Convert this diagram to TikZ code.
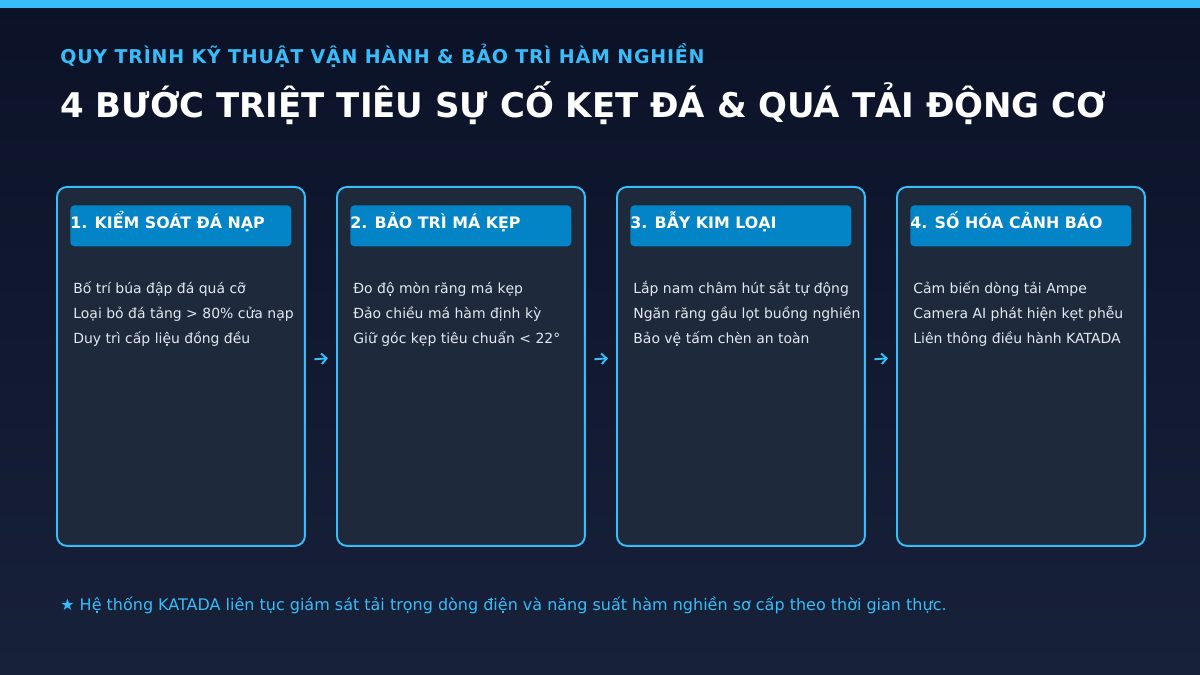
\documentclass[tikz,border=0pt]{standalone}
\usepackage{fontspec}
\setmainfont{DejaVu Sans}
\usetikzlibrary{positioning,arrows.meta}
\definecolor{bgtop}{HTML}{0B1228}
\definecolor{bgbot}{HTML}{172139}
\definecolor{sky}{HTML}{38BDF8}
\definecolor{cardfill}{HTML}{1E293B}
\definecolor{hdrfill}{HTML}{0284C7}
\definecolor{bodytxt}{HTML}{E2E8F0}
\begin{document}
\begin{tikzpicture}
  [x=0.02cm,y=-0.02cm,
   card/.style={draw=sky,line width=1.1pt,fill=cardfill,rounded corners=0.2cm,
     minimum width=4.96cm,minimum height=7.18cm,inner sep=0,anchor=north west},
   hdrbox/.style={fill=hdrfill,rounded corners=0.08cm,minimum width=4.42cm,
     minimum height=0.82cm,inner sep=0,anchor=north west},
   hdrtext/.style={text=white,inner sep=0,anchor=base west,
     font=\fontsize{9}{11}\selectfont\bfseries},
   body/.style={text=bodytxt,inner sep=0,anchor=base west,
     font=\fontsize{7.95}{10}\selectfont},
   link/.style={sky,line width=1.1pt,-{Straight Barb[length=3pt,width=6pt]},
     shorten <=0.17cm,shorten >=0.16cm}]
  % background and top stripe
  \shade[top color=bgtop,bottom color=bgbot] (0,0) rectangle (1200,675);
  \fill[sky] (0,0) rectangle (1200,8);
  \useasboundingbox (0,0) rectangle (1200,675);
  % titles
  \node[anchor=base west,inner sep=0,text=sky,
    font=\fontsize{10.8}{13}\selectfont\bfseries\addfontfeatures{LetterSpace=4.2}]
    (subtitle) at (60,64) {QUY TRÌNH KỸ THUẬT VẬN HÀNH \& BẢO TRÌ HÀM NGHIỀN};
  \node[anchor=base west,inner sep=0,text=white,font=\fontsize{19.35}{24}\selectfont\bfseries]
    (title) at (60,118) {4 BƯỚC TRIỆT TIÊU SỰ CỐ KẸT ĐÁ \& QUÁ TẢI ĐỘNG CƠ};
  % the four steps
  \foreach \i/\x/\head/\la/\lb/\lc in {
    1/56/{1. KIỂM SOÁT ĐÁ NẠP}/{Bố trí búa đập đá quá cỡ}/{Loại bỏ đá tảng > 80\% cửa nạp}/{Duy trì cấp liệu đồng đều},
    2/336/{2. BẢO TRÌ MÁ KẸP}/{Đo độ mòn răng má kẹp}/{Đảo chiều má hàm định kỳ}/{Giữ góc kẹp tiêu chuẩn < 22°},
    3/616/{3. BẪY KIM LOẠI}/{Lắp nam châm hút sắt tự động}/{Ngăn răng gầu lọt buồng nghiền}/{Bảo vệ tấm chèn an toàn},
    4/896/{4. SỐ HÓA CẢNH BÁO}/{Cảm biến dòng tải Ampe}/{Camera AI phát hiện kẹt phễu}/{Liên thông điều hành KATADA}}
  {
    \node[card] (card\i) at (\x,186) {};
    \node[hdrbox] (box\i) at (\x+14,205) {};
    \node[hdrtext] (head\i) at (\x+14,228.5) {\head};
    \node[body] (la\i) at (\x+17,293.5) {\la};
    \node[body] (lb\i) at (\x+17,318.5) {\lb};
    \node[body] (lc\i) at (\x+17,343.5) {\lc};
  }
  % arrows between the steps
  \foreach \a/\b in {1/2,2/3,3/4}
    \draw[link] (card\a.3.5) -- (card\b.176.5);
  % footer note
  \node[anchor=base west,inner sep=0,text=sky,font=\fontsize{9.1}{11}\selectfont]
    (note) at (60,610) {★ Hệ thống KATADA liên tục giám sát tải trọng dòng điện và năng suất hàm nghiền sơ cấp theo thời gian thực.};
\end{tikzpicture}
\end{document}
